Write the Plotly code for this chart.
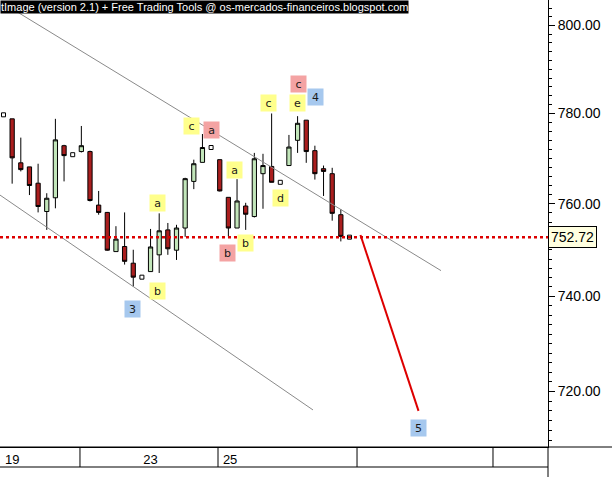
import plotly.graph_objects as go
import math

# ---- data ----
bar_index = list(range(41))
opens = [779.7, 778.8, 769.0, 768.1, 764.5, 758.3, 761.3, 772.8, 770.8, 771.5,
         771.5, 759.7, 758.1, 749.6, 750.7, 747.1, 744.1, 745.3, 748.9, 754.3,
         749.9, 754.7, 764.9, 769.1, 772.4, 769.7, 761.4, 754.7, 759.5, 757.2,
         766.6, 768.2, 764.7, 768.4, 774.0, 778.5, 771.7, 767.7, 766.6, 757.6,
         752.72]
highs = [779.7, 778.8, 774.6, 768.1, 768.8, 762.3, 778.8, 773.0, 770.8, 777.2,
         771.7, 762.8, 758.2, 755.1, 758.1, 750.0, 744.1, 754.5, 757.9, 755.8,
         755.4, 765.7, 769.7, 775.4, 772.4, 769.7, 761.4, 765.4, 760.2, 771.2,
         771.0, 780.0, 764.7, 775.2, 779.4, 778.5, 772.8, 768.4, 767.9, 758.8,
         752.72]
lows = [779.7, 764.4, 767.1, 761.9, 758.1, 754.3, 759.0, 764.9, 770.8, 771.3,
        760.5, 757.6, 749.8, 749.6, 746.8, 742.1, 744.1, 745.3, 745.0, 748.9,
        747.8, 752.8, 763.2, 769.1, 772.4, 762.7, 752.9, 754.7, 754.3, 757.0,
        758.9, 764.7, 764.7, 768.4, 771.2, 769.0, 765.3, 761.7, 756.3, 751.8,
        752.72]
closes = [779.7, 770.1, 767.5, 764.0, 759.4, 761.2, 774.1, 770.6, 770.8, 772.8,
          760.7, 758.1, 749.9, 752.3, 747.5, 744.1, 744.1, 750.6, 754.1, 750.2,
          754.7, 765.5, 768.8, 772.4, 772.4, 762.8, 754.7, 760.6, 757.7, 769.9,
          768.4, 764.7, 764.7, 772.5, 777.8, 771.5, 766.6, 767.1, 757.9, 752.9,
          752.72]
last_price = 752.72

day_labels = ["19", "23", "25"]
day_label_pos = [1, 17, 26.2]

upper_channel_x = [1.45, 50.58]
upper_channel_y = [803.3, 745.5]
lower_channel_x = [-0.41, 35.78]
lower_channel_y = [761.9, 716.2]
projection_x = [41.27, 47.98]
projection_y = [753.2, 716.0]

wave_text = ["c", "a", "a", "b", "3", "a", "b", "b", "c", "d", "c", "e", "4", "5"]
wave_x = [21.79, 23.99, 17.86, 17.86, 14.86, 26.76, 27.92, 25.84, 30.69, 32.02,
          34.10, 33.99, 36.07, 48.03]
wave_y = [777.2, 776.3, 760.2, 741.1, 737.4, 767.5, 751.4, 749.35, 782.3, 761.3,
          786.7, 782.4, 783.7, 712.4]
wave_kind = ["y", "p", "y", "y", "b", "y", "y", "p", "y", "y", "p", "y", "b", "b"]

y_major = [720, 740, 760, 780, 800]

# ---- styling ----
box_colors = {"y": "#FFFF8C", "p": "#F4A3A3", "b": "#A6C8EE"}
x_range = [-0.405, 62.95]
y_range = [math.log10(708.6), math.log10(805.9)]
plot_h = 447.0

fig = go.Figure()

normal = [i for i in bar_index if opens[i] != closes[i]]
doji = [i for i in bar_index if opens[i] == closes[i]]

fig.add_trace(go.Candlestick(
    x=[bar_index[i] for i in normal],
    open=[opens[i] for i in normal],
    high=[highs[i] for i in normal],
    low=[lows[i] for i in normal],
    close=[closes[i] for i in normal],
    increasing=dict(line=dict(color="black", width=1), fillcolor="#C2E6BA"),
    decreasing=dict(line=dict(color="black", width=1), fillcolor="#AA1E1E"),
    whiskerwidth=0, showlegend=False, hoverinfo="skip"))

fig.add_trace(go.Scatter(
    x=[bar_index[i] for i in doji], y=[closes[i] for i in doji], mode="markers",
    marker=dict(symbol="square", size=4, color="white", line=dict(color="black", width=1)),
    showlegend=False, hoverinfo="skip"))

for xs, ys in [(upper_channel_x, upper_channel_y), (lower_channel_x, lower_channel_y)]:
    fig.add_trace(go.Scatter(x=xs, y=ys, mode="lines", line=dict(color="#8A8A8A", width=1),
                             showlegend=False, hoverinfo="skip"))

fig.add_trace(go.Scatter(x=projection_x, y=projection_y, mode="lines",
                         line=dict(color="#DD0000", width=2), showlegend=False, hoverinfo="skip"))

shapes = []
shapes.append(dict(type="line", xref="paper", yref="y", x0=0, x1=1, y0=last_price, y1=last_price,
                   line=dict(color="#DD0000", width=2.5, dash="dot")))
band = -20 / plot_h
shapes.append(dict(type="line", xref="paper", yref="paper", x0=0, x1=612 / 548, y0=0, y1=0,
                   line=dict(color="black", width=1)))
shapes.append(dict(type="line", xref="paper", yref="paper", x0=0, x1=1, y0=band, y1=band,
                   line=dict(color="black", width=1)))
shapes.append(dict(type="line", xref="paper", yref="paper", x0=1, x1=1, y0=0, y1=-30 / plot_h,
                   line=dict(color="black", width=1)))
for s in [8.84, 24.8, 40.87, 56.59]:
    shapes.append(dict(type="line", xref="x", yref="paper", x0=s, x1=s, y0=0, y1=band,
                       line=dict(color="black", width=1)))

annotations = []
for t, xv, yv, k in zip(wave_text, wave_x, wave_y, wave_kind):
    annotations.append(dict(x=xv, y=math.log10(yv), xref="x", yref="y", text=t, showarrow=False,
                            bgcolor=box_colors[k], width=13, height=14, borderpad=1,
                            font=dict(family="DejaVu Sans", size=11, color="#1a1a1a")))
annotations.append(dict(x=1, y=math.log10(last_price), xref="paper", yref="y", text="752.72",
                        showarrow=False, xanchor="left", yanchor="middle", bgcolor="#FFFFE0",
                        bordercolor="black", borderwidth=1, borderpad=2,
                        font=dict(family="Liberation Sans", size=14, color="black")))
annotations.append(dict(x=0, y=1, xref="paper", yref="paper", xanchor="left", yanchor="top",
                        text="tImage (version 2.1) + Free Trading Tools @ os-mercados-financeiros.blogspot.com",
                        showarrow=False, bgcolor="black", borderpad=0,
                        font=dict(family="Liberation Sans", size=11, color="white")))

minor_vals = [v for v in range(710, 806, 2) if v % 20 != 0]

fig.update_layout(
    width=612, height=477,
    margin=dict(l=0, r=64, t=0, b=30),
    plot_bgcolor="white", paper_bgcolor="white",
    shapes=shapes, annotations=annotations,
    xaxis=dict(range=x_range, showgrid=False, zeroline=False, showline=True, linecolor="black",
               linewidth=1, tickmode="array", tickvals=day_label_pos, ticktext=day_labels,
               ticks="", tickfont=dict(family="Liberation Sans", size=13, color="black"),
               rangeslider=dict(visible=False), fixedrange=True),
    yaxis=dict(type="log", side="right", range=y_range, showgrid=False, zeroline=False,
               showline=True, linecolor="black", linewidth=1, tickmode="array",
               tickvals=y_major, ticktext=["%.2f" % v for v in y_major],
               ticks="outside", ticklen=6, tickcolor="black",
               minor=dict(tickmode="array", tickvals=minor_vals, ticks="outside", ticklen=3,
                          tickcolor="black", showgrid=False),
               tickfont=dict(family="Liberation Sans", size=14, color="black")),
)

fig.write_html("out.html", config={"displayModeBar": False},
               post_script="document.body.style.margin='0';document.body.style.overflow='hidden';")
